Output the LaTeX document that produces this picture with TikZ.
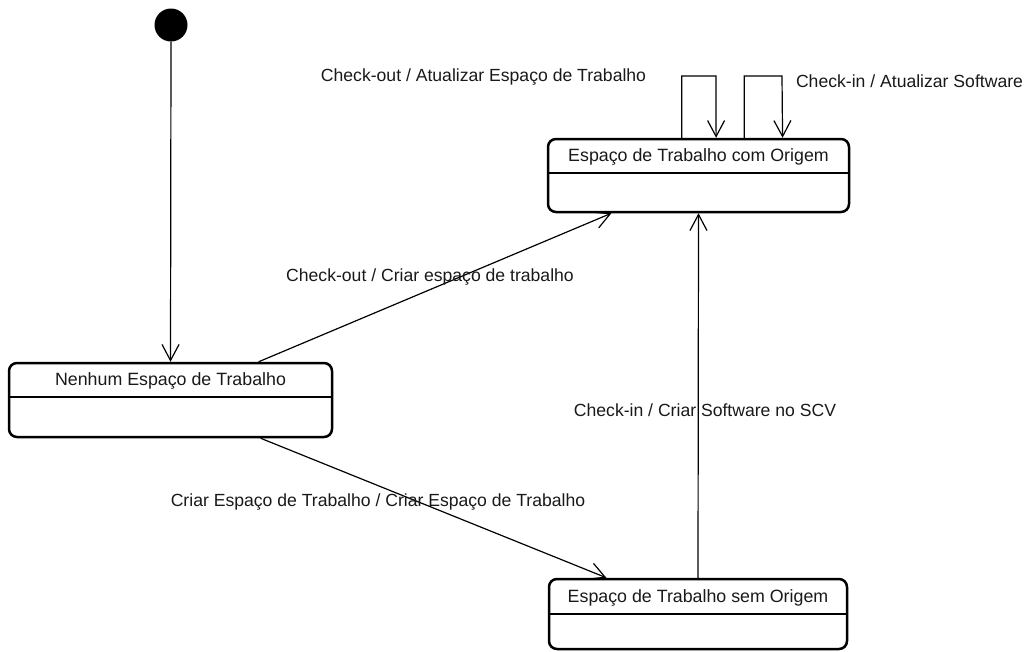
\documentclass[tikz,border=0pt]{standalone}
\usepackage{fontspec}
\setmainfont{Liberation Sans}
\usetikzlibrary{arrows.meta,calc}
\definecolor{ink}{RGB}{25,25,25}
\begin{document}
\begin{tikzpicture}[x=1pt,y=-1pt,
  statebox/.style={draw, line width=2.5pt, rounded corners=8pt, inner sep=0pt},
  stitle/.style={inner sep=0pt, text=ink, font=\fontsize{17.8}{21}\selectfont},
  lbl/.style={inner sep=0pt, text=ink, font=\fontsize{17.6}{21}\selectfont},
  trans/.style={line width=1.2pt, -{Straight Barb[length=16pt,width=17pt,line width=1.2pt]}},
  divider/.style={line width=1.4pt}]
\useasboundingbox (0,0) rectangle (1028,651);

% initial pseudo-state
\node[circle, fill=black, minimum size=33pt, inner sep=0pt] (init) at (171,25) {};

% states
\node[statebox, minimum width=301pt, minimum height=73pt] (com) at (698.5,175.5) {};
\node[stitle] (comt) at (698.5,157) {Espaço de Trabalho com Origem};
\draw[divider] (com.west |- 0,173) -- (com.east |- 0,173);

\node[statebox, minimum width=323pt, minimum height=74pt] (nen) at (170.5,400) {};
\node[stitle] (nent) at (170.5,381) {Nenhum Espaço de Trabalho};
\draw[divider] (nen.west |- 0,397) -- (nen.east |- 0,397);

\node[statebox, minimum width=298pt, minimum height=70pt] (sem) at (698,614) {};
\node[stitle] (semt) at (698,598) {Espaço de Trabalho sem Origem};
\draw[divider] (sem.west |- 0,614) -- (sem.east |- 0,614);

% transitions
\draw[trans] (init.south) -- (nen.north);
\draw[trans] ($(nen.north west)!0.771!(nen.north east)$) -- ($(com.south west)!0.213!(com.south east)$);
\draw[trans] ($(nen.south west)!0.777!(nen.south east)$) -- ($(sem.north west)!0.195!(sem.north east)$);
\draw[trans] (sem.north) -- (com.south);

% self transitions
\draw[trans] ($(com.north west)!0.445!(com.north east)$) |- (716,76) -- ($(com.north west)!0.558!(com.north east)$);
\draw[trans] ($(com.north west)!0.651!(com.north east)$) |- (782,76) -- ($(com.north west)!0.777!(com.north east)$);

% labels
\node[lbl] (l1) at (483.5,77) {Check-out / Atualizar Espaço de Trabalho};
\node[lbl] (l2) at (909.5,81) {Check-in / Atualizar Software};
\node[lbl] (l3) at (430,277) {Check-out / Criar espaço de trabalho};
\node[lbl] (l4) at (705,410) {Check-in / Criar Software no SCV};
\node[lbl] (l5) at (378,502) {Criar Espaço de Trabalho / Criar Espaço de Trabalho};
\end{tikzpicture}
\end{document}
